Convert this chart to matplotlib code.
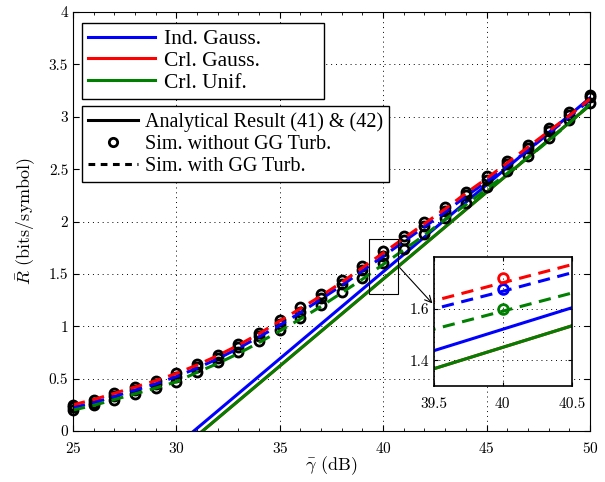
import matplotlib
matplotlib.use("Agg")
import matplotlib.pyplot as plt
from matplotlib.patches import Rectangle, ConnectionPatch
from matplotlib.lines import Line2D
from matplotlib.ticker import MultipleLocator

plt.rcParams['mathtext.fontset'] = 'cm'
plt.rcParams['axes.formatter.use_mathtext'] = True

snr = [25, 26, 27, 28, 29, 30, 31, 32, 33, 34, 35, 36, 37, 38, 39, 40,
       41, 42, 43, 44, 45, 46, 47, 48, 49, 50]

# sim. with GG turbulence (dashed)
turb_ind = [.225, .27, .33, .39, .45, .52, .60, .69, .79, .90, 1.01, 1.13, 1.26, 1.39, 1.53, 1.667,
            1.81, 1.95, 2.09, 2.24, 2.38, 2.53, 2.68, 2.84, 3.00, 3.16]
turb_crl = [.25, .30, .36, .42, .48, .55, .63, .72, .82, .93, 1.05, 1.17, 1.29, 1.42, 1.56, 1.70,
            1.84, 1.98, 2.12, 2.27, 2.41, 2.56, 2.71, 2.86, 3.01, 3.17]
turb_unif = [.20, .245, .30, .355, .41, .47, .56, .645, .74, .845, .955, 1.07, 1.19, 1.32, 1.45, 1.59,
             1.73, 1.87, 2.02, 2.16, 2.31, 2.46, 2.61, 2.77, 2.94, 3.12]

# sim. without GG turbulence (circles)
noturb_ind = [.225, .27, .33, .39, .45, .52, .61, .70, .80, .91, 1.02, 1.14, 1.27, 1.40, 1.54, 1.675,
              1.82, 1.96, 2.10, 2.25, 2.40, 2.55, 2.70, 2.86, 3.02, 3.19]
noturb_crl = [.25, .30, .36, .42, .48, .55, .64, .73, .83, .94, 1.06, 1.18, 1.31, 1.44, 1.58, 1.717,
              1.86, 2.00, 2.14, 2.28, 2.43, 2.58, 2.73, 2.89, 3.05, 3.21]
noturb_unif = [.20, .245, .30, .355, .41, .47, .565, .655, .75, .855, .965, 1.08, 1.20, 1.33, 1.46, 1.60,
               1.74, 1.88, 2.03, 2.18, 2.33, 2.48, 2.63, 2.80, 2.97, 3.13]

# analytical result (41) & (42)
anal_snr = [30, 35, 40, 45, 50]
anal_ind = [-0.14, 0.69, 1.52, 2.35, 3.18]
anal_crl = [-0.21, 0.62, 1.45, 2.28, 3.11]
anal_unif = [-0.21, 0.62, 1.45, 2.28, 3.11]

BLUE = (0, 0, 1)
RED = (1, 0, 0)
GREEN = (0, 0.5, 0)
LW = 2.2
DASH = (4, 2.5)

fig = plt.figure(figsize=(6.05, 4.82), dpi=100)
ax = fig.add_axes([0.1207, 0.1058, 0.8543, 0.8692])


def draw(a, circ_color, circ_ms, clip):
    a.plot(anal_snr, anal_ind, color=BLUE, lw=LW)
    a.plot(anal_snr, anal_crl, color=RED, lw=LW)
    a.plot(anal_snr, anal_unif, color=GREEN, lw=LW)
    for vals, c in [(noturb_crl, RED), (noturb_ind, BLUE), (noturb_unif, GREEN)]:
        col = c if circ_color is None else circ_color
        a.plot(snr, vals, 'o', ls='none', mfc='none', mec=col, ms=circ_ms, mew=2.0,
               clip_on=clip)
    for vals, c in [(turb_ind, BLUE), (turb_unif, GREEN), (turb_crl, RED)]:
        a.plot(snr, vals, color=c, lw=LW, ls='--', dashes=DASH)


draw(ax, 'k', 6.5, False)
ax.set_xlim(25, 50)
ax.set_ylim(0, 4)
ax.set_xticks([25, 30, 35, 40, 45, 50])
ax.set_yticks([0, 0.5, 1, 1.5, 2, 2.5, 3, 3.5, 4])
ax.set_yticklabels(['0', '0.5', '1', '1.5', '2', '2.5', '3', '3.5', '4'])
ax.xaxis.set_minor_locator(MultipleLocator(1))
ax.tick_params(which='both', direction='in', top=True, right=True, labelsize=11)
ax.tick_params(axis='x', which='major', pad=7)
ax.tick_params(which='major', length=4)
ax.tick_params(which='minor', length=2)
for lab in ax.get_xticklabels() + ax.get_yticklabels():
    lab.set_family('cmr10')
ax.grid(True, color='k', ls=(0, (1, 4)), lw=0.7)
ax.set_xlabel(r'$\bar{\gamma}$ (dB)', family='cmr10', fontsize=13, labelpad=-1)
ax.set_ylabel(r'$\bar{R}$ (bits/symbol)', family='cmr10', fontsize=13, labelpad=8)

# zoom box
ax.add_patch(Rectangle((39.3, 1.31), 1.42, 0.52, fill=False, ec='k', lw=0.8, zorder=5))

# legends
h1 = [Line2D([], [], color=BLUE, lw=LW), Line2D([], [], color=RED, lw=LW),
      Line2D([], [], color=GREEN, lw=LW)]
leg1 = ax.legend(h1, ['Ind. Gauss.', 'Crl. Gauss.', 'Crl. Unif.'], loc='upper left',
                 bbox_to_anchor=(0.017, 0.775, 0.468, 0.2), mode='expand',
                 borderaxespad=0, prop={'family': 'Liberation Serif', 'size': 15.5},
                 fancybox=False, edgecolor='k', framealpha=1, handlelength=3.1,
                 handletextpad=0.4, labelspacing=0.08, borderpad=0.3)
leg1.get_frame().set_linewidth(1.0)
ax.add_artist(leg1)
h2 = [Line2D([], [], color='k', lw=LW),
      Line2D([], [], color='k', marker='o', ls='none', mfc='none', mew=2.0, ms=6),
      Line2D([], [], color='k', lw=LW, ls='--', dashes=(2.2, 1.8))]
leg2 = ax.legend(h2, ['Analytical Result (41) & (42)', 'Sim. without GG Turb.',
                      'Sim. with GG Turb.'], loc='upper left',
                 bbox_to_anchor=(0.017, 0.776), borderaxespad=0,
                 prop={'family': 'Liberation Serif', 'size': 14.5},
                 fancybox=False, edgecolor='k', framealpha=1, handlelength=2.5,
                 handletextpad=0.35, labelspacing=0.15, borderpad=0.3)
leg2.get_frame().set_linewidth(1.0)

# inset
axins = fig.add_axes([0.717, 0.199, 0.228, 0.268])
draw(axins, None, 7, True)
axins.set_xlim(39.5, 40.5)
axins.set_ylim(1.3, 1.8)
axins.set_xticks([39.5, 40, 40.5])
axins.set_xticklabels(['39.5', '40', '40.5'])
axins.set_yticks([1.4, 1.6])
axins.set_yticklabels(['1.4', '1.6'])
axins.tick_params(direction='in', top=True, right=True, labelsize=11, length=3)
axins.tick_params(axis='x', pad=8)
for lab in axins.get_xticklabels() + axins.get_yticklabels():
    lab.set_family('cmr10')
axins.grid(True, color='k', ls=(0, (1, 4)), lw=0.7)
for s in axins.spines.values():
    s.set_linewidth(1.2)

con = ConnectionPatch(xyA=(40.8, 1.56), coordsA=ax.transData,
                      xyB=(-0.01, 0.64), coordsB=axins.transAxes,
                      arrowstyle='->', color='k', lw=0.8, mutation_scale=12)
fig.add_artist(con)

fig.savefig('out.png', dpi=100)
